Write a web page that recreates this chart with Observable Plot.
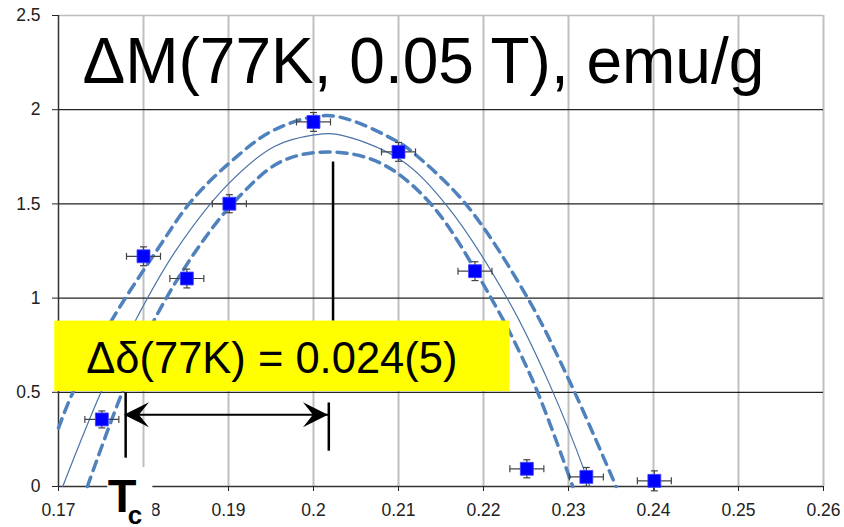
<!DOCTYPE html>
<html>
<head>
<meta charset="utf-8">
<script src="https://cdn.jsdelivr.net/npm/d3@7"></script>
<script src="https://cdn.jsdelivr.net/npm/@observablehq/plot@0.6"></script>
<style>
  html, body { margin: 0; padding: 0; background: #fff; }
</style>
</head>
<body>
<div id="chart"></div>
<script>
// ---- axis ticks ----
const ticksX = [0.17, 0.18, 0.19, 0.20, 0.21, 0.22, 0.23, 0.24, 0.25, 0.26];
const tickLabelsX = ["0.17", "0.18", "0.19", "0.2", "0.21", "0.22", "0.23", "0.24", "0.25", "0.26"];
const ticksY = [0, 0.5, 1, 1.5, 2, 2.5];
const tickLabelsY = ["0", "0.5", "1", "1.5", "2", "2.5"];

// ---- measured points with error bars ----
const pointX = [0.1751, 0.1800, 0.1851, 0.1901, 0.2000, 0.2100, 0.2190, 0.2251, 0.2321, 0.2401];
const pointY = [0.356, 1.222, 1.104, 1.501, 1.935, 1.776, 1.143, 0.094, 0.051, 0.030];
const errX = [0.002, 0.002, 0.002, 0.002, 0.002, 0.002, 0.002, 0.002, 0.002, 0.002];
const errY = [0.045, 0.05, 0.05, 0.048, 0.05, 0.05, 0.05, 0.048, 0.05, 0.053];

// ---- fit curve (solid) ----
const fitX = [0.1705, 0.1750, 0.1791, 0.1838, 0.1899, 0.1954, 0.2001, 0.2028, 0.2101, 0.2156, 0.2229, 0.2277, 0.2321, 0.2325];
const fitY = [0, 0.50, 0.885, 1.252, 1.602, 1.805, 1.866, 1.869, 1.738, 1.495, 0.99, 0.55, 0.055, 0];

// ---- upper confidence curve (dashed) ----
const upperX = [0.1700, 0.1716, 0.1762, 0.1816, 0.1856, 0.1903, 0.1954, 0.2020, 0.2099, 0.2118, 0.2179, 0.2252, 0.2301, 0.2356];
const upperY = [0.31, 0.49, 0.878, 1.255, 1.513, 1.725, 1.893, 1.968, 1.83, 1.769, 1.5, 1.0, 0.561, 0];

// ---- lower confidence curve (dashed) ----
const lowerX = [0.1734, 0.1775, 0.1812, 0.1864, 0.1911, 0.1962, 0.2020, 0.2079, 0.2138, 0.2209, 0.2258, 0.2305];
const lowerY = [0, 0.5, 0.878, 1.266, 1.531, 1.725, 1.776, 1.716, 1.5, 1.0, 0.561, 0];

// ---- annotation texts / anchors (data coordinates) ----
const titleText = "ΔM(77K, 0.05 T), emu/g";
const titlePos = {x: 0.17282, y: 2.248};
const noteText = "Δδ(77K) = 0.024(5)";
const notePos = {x: 0.17326, y: 0.676};
const noteBox = {x1: 0.16956, x2: 0.2231, y1: 0.504, y2: 0.878};
const tcX = 0.1779;        // Tc marker position
const peakX = 0.2020;      // peak marker position
const arrowY = 0.381;

const pts = pointX.map((x, i) => ({x, y: pointY[i], ex: errX[i], ey: errY[i]}));
const toXY = (xs, ys) => xs.map((x, i) => ({x, y: ys[i]}));

const vcap = {draw(ctx) { ctx.moveTo(0, -3.5); ctx.lineTo(0, 3.5); }};
const hcap = {draw(ctx) { ctx.moveTo(-3.5, 0); ctx.lineTo(3.5, 0); }};
const headLeft = {draw(ctx) { ctx.moveTo(0, 0); ctx.lineTo(25, -12.5); ctx.lineTo(15, 0); ctx.lineTo(25, 12.5); ctx.closePath(); }};
const headRight = {draw(ctx) { ctx.moveTo(0, 0); ctx.lineTo(-25, -12.5); ctx.lineTo(-15, 0); ctx.lineTo(-25, 12.5); ctx.closePath(); }};

const chart = Plot.plot({
  width: 844,
  height: 527,
  marginLeft: 58,
  marginRight: 21,
  marginTop: 15,
  marginBottom: 41,
  style: {fontFamily: "'Liberation Sans', Arial, sans-serif", fontSize: "17.5px", color: "#222", background: "#fff", overflow: "visible"},
  x: {domain: [0.17, 0.26], ticks: ticksX, tickFormat: d => tickLabelsX[ticksX.findIndex(t => Math.abs(t - d) < 1e-9)], tickSize: 5, tickPadding: 12, label: null},
  y: {domain: [0, 2.5], ticks: ticksY, tickFormat: d => tickLabelsY[ticksY.findIndex(t => Math.abs(t - d) < 1e-9)], tickSize: 6, tickPadding: 12, label: null},
  marks: [
    // grid
    Plot.ruleX(ticksX.slice(1), {stroke: "#c0c0c0", strokeWidth: 2}),
    Plot.ruleY(ticksY.slice(1, -1), {stroke: "#222", strokeWidth: 1.3}),
    Plot.ruleY(ticksY.slice(-1), {stroke: "#bdbdbd", strokeWidth: 1.5}),
    Plot.ruleY([0], {stroke: "#333", strokeWidth: 1.3}),
    Plot.ruleX([0.17], {stroke: "#333", strokeWidth: 1.5}),
    // curves
    Plot.line(toXY(upperX, upperY), {x: "x", y: "y", curve: "catmull-rom", stroke: "#4f81bd", strokeWidth: 3.5, strokeDasharray: "10,7"}),
    Plot.line(toXY(lowerX, lowerY), {x: "x", y: "y", curve: "catmull-rom", stroke: "#4f81bd", strokeWidth: 3.5, strokeDasharray: "10,7"}),
    Plot.line(toXY(fitX, fitY), {x: "x", y: "y", curve: "catmull-rom", stroke: "#4a72a8", strokeWidth: 1.2}),
    // error bars
    Plot.link(pts, {x1: d => d.x - d.ex, x2: d => d.x + d.ex, y1: "y", y2: "y", stroke: "#444", strokeWidth: 1.2}),
    Plot.link(pts, {x1: "x", x2: "x", y1: d => d.y - d.ey, y2: d => d.y + d.ey, stroke: "#444", strokeWidth: 1.2}),
    Plot.dot(pts, {x: d => d.x - d.ex, y: "y", symbol: vcap, stroke: "#444", fill: "none", strokeWidth: 1.2}),
    Plot.dot(pts, {x: d => d.x + d.ex, y: "y", symbol: vcap, stroke: "#444", fill: "none", strokeWidth: 1.2}),
    Plot.dot(pts, {x: "x", y: d => d.y - d.ey, symbol: hcap, stroke: "#444", fill: "none", strokeWidth: 1.2}),
    Plot.dot(pts, {x: "x", y: d => d.y + d.ey, symbol: hcap, stroke: "#444", fill: "none", strokeWidth: 1.2}),
    // points
    Plot.dot(pts, {x: "x", y: "y", symbol: "square", r: 7.3, fill: "#0000ff", stroke: "#4040ff", strokeWidth: 0.8}),
    // peak marker (upper segment)
    Plot.link([{x: peakX + 0.0003, y1: 1.725, y2: 0.88}], {x1: "x", x2: "x", y1: "y1", y2: "y2", stroke: "#000", strokeWidth: 2.5}),
    // yellow annotation box
    Plot.rect([noteBox], {x1: "x1", x2: "x2", y1: "y1", y2: "y2", fill: "#ffff00", clip: false}),
    Plot.text([notePos], {x: "x", y: "y", text: () => noteText, textAnchor: "start", lineAnchor: "middle", fontSize: 43.5, fill: "#000"}),
    // Tc & peak markers below box
    Plot.link([{x: tcX, y1: 0.50, y2: 0.153}], {x1: "x", x2: "x", y1: "y1", y2: "y2", stroke: "#000", strokeWidth: 2.5}),
    Plot.link([{x: peakX - 0.0002, y1: 0.446, y2: 0.19}], {x1: "x", x2: "x", y1: "y1", y2: "y2", stroke: "#000", strokeWidth: 2.5}),
    // double-headed arrow
    Plot.link([{x1: tcX, x2: peakX - 0.0003, y: arrowY}], {x1: "x1", x2: "x2", y1: "y", y2: "y", stroke: "#000", strokeWidth: 2}),
    Plot.dot([{x: tcX - 0.0002, y: arrowY}], {x: "x", y: "y", symbol: headLeft, fill: "#000", stroke: "none"}),
    Plot.dot([{x: peakX - 0.0003, y: arrowY}], {x: "x", y: "y", symbol: headRight, fill: "#000", stroke: "none"}),
    // Tc label with white backing
    Plot.rect([{x1: 0.1758, x2: 0.1811, y1: -0.23, y2: 0.1005}], {x1: "x1", x2: "x2", y1: "y1", y2: "y2", fill: "#fff", clip: false}),
    Plot.text([{x: 0.1758, y: -0.0566}], {x: "x", y: "y", text: () => "T", textAnchor: "start", lineAnchor: "middle", fontSize: 47, fontWeight: "bold", fill: "#000"}),
    Plot.text([{x: 0.17815, y: -0.156}], {x: "x", y: "y", text: () => "c", textAnchor: "start", lineAnchor: "middle", fontSize: 26, fontWeight: "bold", fill: "#000"}),
    // title inside plot
    Plot.text([titlePos], {x: "x", y: "y", text: () => titleText, textAnchor: "start", lineAnchor: "middle", fontSize: 64, fill: "#000"})
  ]
});
document.getElementById("chart").appendChild(chart);
</script>
</body>
</html>
